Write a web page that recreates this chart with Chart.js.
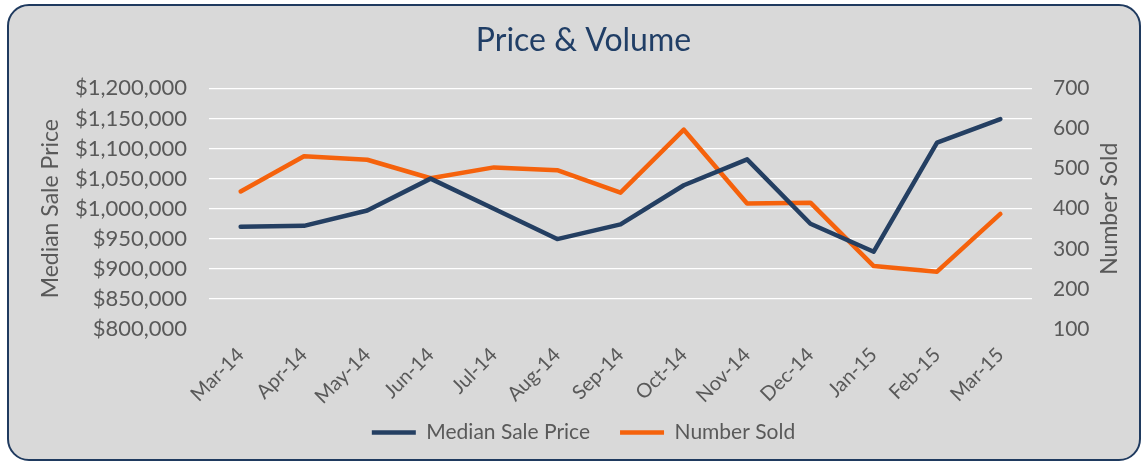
<!DOCTYPE html>
<html><head><meta charset="utf-8">
<script src="https://cdn.jsdelivr.net/npm/chart.js@4.4.1/dist/chart.umd.min.js"></script>
<style>
html,body{margin:0;padding:0;background:#fff;width:1143px;height:463px;overflow:hidden}
#frame{position:absolute;left:7px;top:4px;width:1134px;height:457px;box-sizing:border-box;border:2px solid #1f3a5f;border-radius:22px;background:#d9d9d9}
#wrap{position:absolute;left:0;top:0;width:1143px;height:463px}
</style></head><body>
<div id="frame"></div>
<div id="wrap"><canvas id="c"></canvas></div>
<script>
const categories = ['Mar-14','Apr-14','May-14','Jun-14','Jul-14','Aug-14','Sep-14','Oct-14','Nov-14','Dec-14','Jan-15','Feb-15','Mar-15'];
const medianSalePrice = [970000, 971500, 997000, 1050000, 1000000, 949500, 974000, 1039000, 1082000, 975000, 928500, 1110000, 1149000];
const numberSold = [443, 531, 522, 476, 503, 496, 440, 597, 413, 415, 257, 243, 387];
const priceAxis = {min: 800000, max: 1200000, step: 50000};
const soldAxis = {min: 100, max: 700, step: 100};

const NAVY = '#243F62', ORANGE = '#F5620C', TEXT = '#595959';
const FONT = 'Lato, "Noto Sans", sans-serif';

const rightTitle = {
  id: 'rightTitle',
  afterDraw(chart) {
    const {ctx, chartArea} = chart;
    ctx.save();
    ctx.translate(1110, (chartArea.top + chartArea.bottom) / 2);
    ctx.rotate(-Math.PI / 2);
    ctx.textAlign = 'center';
    ctx.textBaseline = 'middle';
    ctx.fillStyle = TEXT;
    ctx.font = '23px ' + FONT;
    ctx.fillText('Number Sold', 0, 0);
    ctx.restore();
  }
};

new Chart(document.getElementById('c'), {
  type: 'line',
  data: {
    labels: categories,
    datasets: [
      {label: 'Median Sale Price', data: medianSalePrice, yAxisID: 'y', borderColor: NAVY, backgroundColor: NAVY,
       borderWidth: 4.5, pointRadius: 0, tension: 0, borderCapStyle: 'round', borderJoinStyle: 'round'},
      {label: 'Number Sold', data: numberSold, yAxisID: 'y1', borderColor: ORANGE, backgroundColor: ORANGE,
       borderWidth: 4.5, pointRadius: 0, tension: 0, borderCapStyle: 'round', borderJoinStyle: 'round'}
    ]
  },
  options: {
    responsive: true, maintainAspectRatio: false, animation: false, devicePixelRatio: 1,
    layout: {padding: {top: 0, bottom: 10, left: 24, right: 0}},
    plugins: {
      title: {display: true, text: 'Price & Volume', color: '#203E66', font: {family: FONT, size: 32, weight: 'normal'},
              padding: {top: 21, bottom: 29}},
      legend: {position: 'bottom', labels: {usePointStyle: true, pointStyle: 'line', pointStyleWidth: 44,
              color: TEXT, font: {family: FONT, size: 21}, padding: 30}},
      tooltip: {enabled: false}
    },
    scales: {
      x: {offset: true, grid: {display: false}, border: {display: false},
          ticks: {color: TEXT, font: {family: FONT, size: 20}, minRotation: 45, maxRotation: 45, autoSkip: false, padding: 6},
          afterFit(s) { s.height = 63; s._computeLabelArea = () => undefined; }},
      y: {position: 'left', min: priceAxis.min, max: priceAxis.max,
          ticks: {stepSize: priceAxis.step, autoSkip: false, color: TEXT, font: {family: FONT, size: 22}, padding: 22,
                  callback: v => '$' + Number(v).toLocaleString('en-US')},
          grid: {drawTicks: false, lineWidth: 1.3, color: c => c.tick && c.tick.value === priceAxis.min ? 'rgba(0,0,0,0)' : '#ffffff'},
          border: {display: false},
          title: {display: true, text: 'Median Sale Price', color: TEXT, font: {family: FONT, size: 23}, padding: {top: 13, bottom: 0}},
          afterFit(s) { s.width = 185; }},
      y1: {position: 'right', min: soldAxis.min, max: soldAxis.max,
          ticks: {stepSize: soldAxis.step, autoSkip: false, color: TEXT, font: {family: FONT, size: 21}, padding: 21},
          grid: {display: false, drawTicks: false}, border: {display: false},
          afterFit(s) { s.width = 111; }}
    }
  },
  plugins: [rightTitle]
});
</script>
</body></html>
